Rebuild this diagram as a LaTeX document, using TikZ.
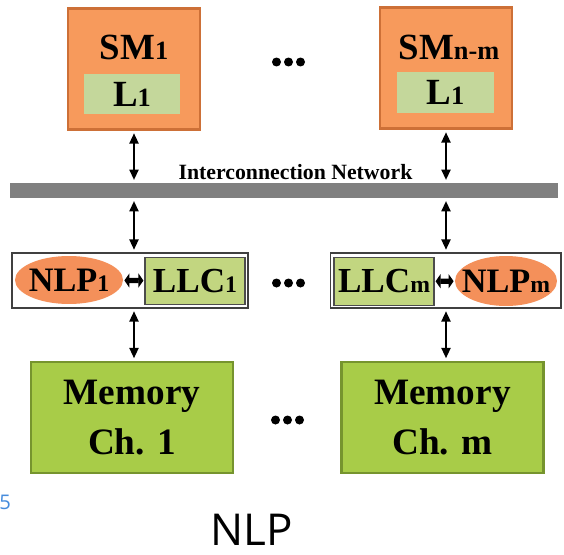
\documentclass[tikz,border=0pt]{standalone}
\usepackage{fontspec}
\setmainfont{Liberation Serif}
\newfontfamily\capfont{Open Sans}
\usetikzlibrary{arrows.meta,shapes.geometric}

\definecolor{smorange}{RGB}{247,154,92}
\definecolor{smedge}{RGB}{205,112,55}
\definecolor{lgreen}{RGB}{196,215,155}
\definecolor{llcgreen}{RGB}{194,214,128}
\definecolor{memgreen}{RGB}{168,204,72}
\definecolor{memedge}{RGB}{118,148,46}
\definecolor{nlporange}{RGB}{244,144,90}
\definecolor{netgray}{RGB}{128,128,128}
\definecolor{pagenum}{RGB}{70,140,220}

\newcommand{\subsm}[1]{{\fontsize{15}{15}\selectfont #1}}
\newcommand{\subnl}[1]{{\fontsize{13.5}{13.5}\selectfont #1}}

\begin{document}
\begin{tikzpicture}[x=0.02cm, y=-0.02cm, font=\bfseries,
    smbox/.style={draw=smedge, fill=smorange, line width=1.2pt,
      minimum width=2.64cm, minimum height=2.42cm},
    lbox/.style={fill=lgreen, minimum width=1.93cm, minimum height=0.81cm,
      font=\fontsize{21}{21}\selectfont\bfseries},
    smtext/.style={font=\fontsize{21}{21}\selectfont\bfseries},
    grpbox/.style={draw=black!75, fill=white, line width=0.6pt,
      minimum height=1.1cm},
    nlpnode/.style={ellipse, fill=nlporange, inner sep=0pt},
    nltext/.style={font=\fontsize{19.5}{19.5}\selectfont\bfseries, inner sep=0pt},
    llcbox/.style={draw=black!70, fill=llcgreen, line width=0.6pt,
      minimum width=2cm, minimum height=0.95cm, inner sep=0pt,
      font=\fontsize{20}{20}\selectfont\bfseries},
    membox/.style={draw=memedge, fill=memgreen, line width=1.2pt,
      minimum width=4.04cm, minimum height=2.22cm, align=center,
      font=\fontsize{21.2}{28}\selectfont\bfseries},
    bidir/.style={{Triangle[length=2.1mm,width=1.8mm]}-{Triangle[length=2.1mm,width=1.8mm]},
      line width=1.3pt, shorten <=1.5pt, shorten >=1.5pt},
    shortbi/.style={{Triangle[length=1mm,width=2.8mm]}-{Triangle[length=1mm,width=2.8mm]},
      line width=3pt, shorten <=0.6pt, shorten >=0.6pt}]
  \useasboundingbox (0,0) rectangle (564,554);

  % streaming multiprocessors
  \node[smbox] (sm1) at (134,69) {};
  \node[smtext] (sm1txt) at (134,47) {SM\subsm{1}};
  \node[lbox] (sm1l) at (132,94) {L\subsm{1}};
  \node[smbox] (smm) at (446,68) {};
  \node[smtext] (smmtxt) at (449,47) {SM\subsm{n-m}};
  \node[lbox] (smml) at (445.5,92.5) {L\subsm{1}};
  \foreach \x in {276.5,288.5,300.5} \fill (\x,62) circle[radius=0.09cm];

  % interconnection network
  \node[fill=netgray, minimum width=10.96cm, minimum height=0.3cm, inner sep=0pt] (net) at (284,190.5) {};
  \node[anchor=base, font=\fontsize{12.4}{12.4}\selectfont\bfseries] (netlbl) at (295.5,179) {Interconnection Network};
  \draw[bidir] (sm1.south) -- (sm1.south |- net.north);
  \draw[bidir] (smm.south) -- (smm.south |- net.north);

  % NLP + LLC groups
  \node[grpbox, minimum width=4.72cm] (grp1) at (130,280.5) {};
  \node[nlpnode, minimum width=2.16cm, minimum height=0.96cm] (nlp1) at (69,280) {};
  \node[nltext] (nlp1txt) at (nlp1) {NLP\subnl{1}};
  \node[llcbox] (llc1) at (195,281) {LLC\subnl{1}};
  \node[grpbox, minimum width=4.62cm] (grp2) at (445.5,280.5) {};
  \node[llcbox] (llcm) at (384,281.5) {LLC\subnl{m}};
  \node[nlpnode, minimum width=2.04cm, minimum height=1cm] (nlpm) at (506,281) {};
  \node[nltext] (nlpmtxt) at (nlpm) {NLP\subnl{m}};
  \draw[shortbi] (nlp1) -- (llc1);
  \draw[shortbi] (llcm) -- (nlpm);
  \foreach \x in {276.5,288.5,300.5} \fill (\x,283) circle[radius=0.09cm];
  \draw[bidir] (sm1.south |- net.south) -- (sm1.south |- grp1.north);
  \draw[bidir] (smm.south |- net.south) -- (smm.south |- grp2.north);

  % memory channels
  \node[membox] (mem1) at (132,417.5) {Memory\\Ch. 1};
  \node[membox] (memm) at (442.5,417.5) {Memory\\Ch. m};
  \foreach \x in {275.5,287.5,299.5} \fill (\x,420) circle[radius=0.09cm];
  \draw[bidir] (sm1.south |- grp1.south) -- (sm1.south |- mem1.north);
  \draw[bidir] (smm.south |- grp2.south) -- (smm.south |- memm.north);

  % caption
  \node[anchor=base west, text=pagenum, font=\capfont\fontsize{11.5}{11.5}\selectfont, inner sep=0pt] (pg) at (-1,509) {5};
  \node[anchor=base, font=\capfont\fontsize{25}{25}\selectfont, inner sep=0pt] (cap) at (252,545) {NLP};
\end{tikzpicture}
\end{document}
